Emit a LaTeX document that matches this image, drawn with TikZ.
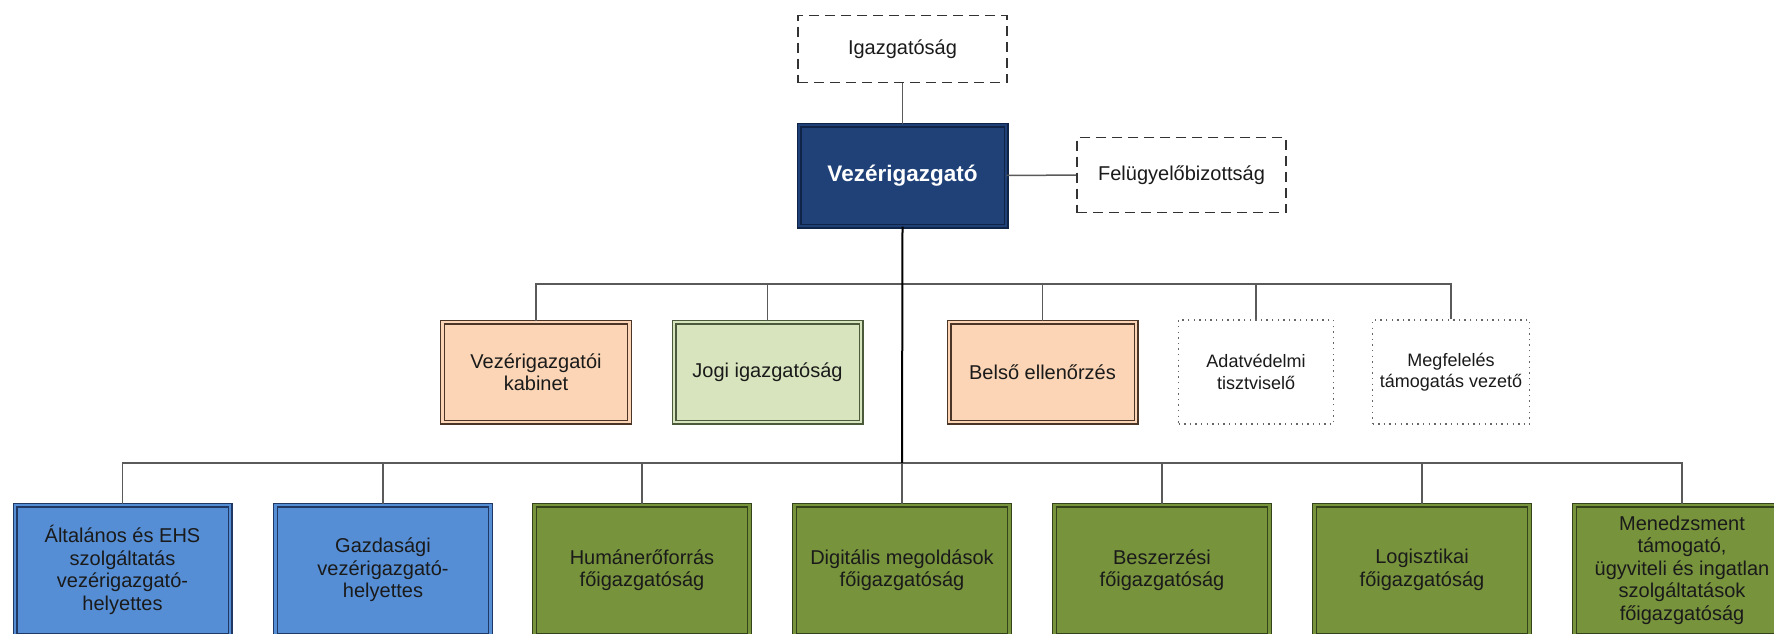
\documentclass[tikz,border=0pt]{standalone}
\usepackage{fontspec}
\setmainfont{Liberation Sans}

\definecolor{navy}{HTML}{1F4178}
\definecolor{navyedge}{HTML}{0F2447}
\definecolor{bluefill}{HTML}{558ED5}
\definecolor{blueedge}{HTML}{1F3864}
\definecolor{greenfill}{HTML}{77933C}
\definecolor{greenedge}{HTML}{34431A}
\definecolor{peach}{HTML}{FBD5B5}
\definecolor{peachedge}{HTML}{4A3526}
\definecolor{lightgreen}{HTML}{D7E4BD}
\definecolor{lightgreenedge}{HTML}{4B5A3A}
\definecolor{linegray}{HTML}{5A5A5A}
\definecolor{textdark}{HTML}{1A1A1A}

\begin{document}
\begin{tikzpicture}[x=1pt,y=-1pt,
  unit/.style={rectangle, inner sep=0pt, align=center, text=textdark,
    font=\fontsize{20}{22.5}\selectfont},
  framed/.style={unit, line width=1.2pt, double distance=2.6pt},
  midbox/.style={framed, minimum width=187pt, minimum height=100pt},
  lowbox/.style={framed, minimum width=215pt, minimum height=130pt},
  peachbox/.style={midbox, draw=peachedge, fill=peach, double=peach},
  lgreenbox/.style={midbox, draw=lightgreenedge, fill=lightgreen, double=lightgreen},
  bluebox/.style={lowbox, draw=blueedge, fill=bluefill, double=bluefill},
  greenbox/.style={lowbox, draw=greenedge, fill=greenfill, double=greenfill},
  dashbox/.style={unit, draw=black!80, line width=1.6pt,
    dash pattern=on 10pt off 6pt, minimum width=209pt},
  dotbox/.style={unit, draw=black!60, line width=1.5pt,
    dash pattern=on 1.4pt off 4.2pt, minimum height=104pt,
    font=\fontsize{18}{21.5}\selectfont},
  conn/.style={draw=linegray, line width=1.5pt},
  trunk/.style={draw=black, line width=2pt}
]
\clip (0,0) rectangle (1774,633);
\fill[white] (0,0) rectangle (1774,633);

% top level
\node[dashbox, minimum height=67pt] (ig) at (902.5,49) {Igazgatóság};
\node[framed, draw=navyedge, fill=navy, double=navy, text=white,
  minimum width=207pt, minimum height=101pt,
  font=\bfseries\fontsize{22.5}{25}\selectfont] (vez) at (902.5,175.5) {Vezérigazgató};
\node[dashbox, minimum height=75pt] (fel) at (1181.5,175) {Felügyelőbizottság};

% staff units
\node[peachbox] (kab) at (536,372) {Vezérigazgatói\\kabinet};
\node[lgreenbox] (jogi) at (767.5,372) {Jogi igazgatóság};
\node[peachbox] (bels) at (1042.5,372) {Belső ellenőrzés};
\node[dotbox, minimum width=155pt] (adat) at (1256,372) {Adatvédelmi\\tisztviselő};
\node[dotbox, minimum width=157pt] (megf) at (1451,372) {Megfelelés\\támogatás vezető};

% line units
\node[bluebox] (ehs) at (122.5,570) {Általános és EHS\\szolgáltatás\\vezérigazgató-\\helyettes};
\node[bluebox] (gazd) at (383,570) {Gazdasági\\vezérigazgató-\\helyettes};
\node[greenbox] (hum) at (642,570) {Humánerőforrás\\főigazgatóság};
\node[greenbox] (dig) at (902,570) {Digitális megoldások\\főigazgatóság};
\node[greenbox] (besz) at (1162,570) {Beszerzési\\főigazgatóság};
\node[greenbox] (log) at (1422,570) {Logisztikai\\főigazgatóság};
\node[greenbox] (men) at (1682,570) {Menedzsment\\támogató,\\ügyviteli és ingatlan\\szolgáltatások\\főigazgatóság};

% bus junctions on the trunk
\coordinate (staffbus) at (902,284);
\coordinate (linebus) at (902,463);

% connectors
\draw[conn] (ig) -- (vez);
\draw[conn] (vez) -- (fel);
\foreach \n in {kab,jogi,bels,adat,megf}
  \draw[conn] (\n.north) |- (staffbus);
\foreach \n in {ehs,gazd,hum,dig,besz,log,men}
  \draw[conn] (\n.north) |- (linebus);
\draw[trunk] (vez.south) -- (linebus);
\end{tikzpicture}
\end{document}
